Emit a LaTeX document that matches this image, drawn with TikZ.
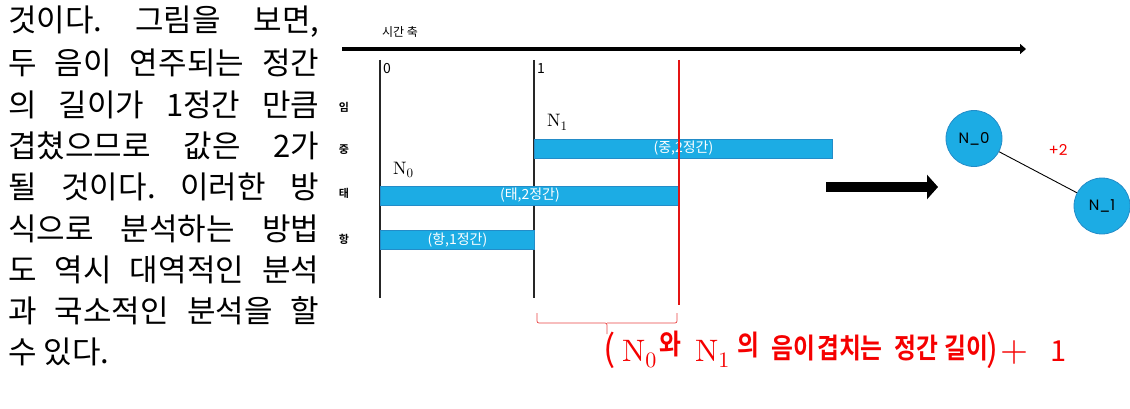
\documentclass[tikz,border=0pt]{standalone}
\usepackage[no-math]{fontspec}
\setmainfont{Noto Sans CJK KR}
\newfontfamily\krb{Noto Sans CJK KR Bold}
\newfontfamily\lmr[Extension=.otf]{lmroman10-regular}
\newfontfamily\pop{Poppins}
\usetikzlibrary{arrows.meta}
\definecolor{barblue}{RGB}{28,172,228}
\definecolor{barline}{RGB}{35,140,200}
\definecolor{redl}{RGB}{228,20,20}
\definecolor{redt}{RGB}{245,0,0}
\tikzset{
  para/.style={anchor=west,inner sep=0pt,font=\fontsize{31}{34}\selectfont},
  bar/.style={draw=barline,fill=barblue,line width=0.8pt,minimum height=19pt,inner sep=0pt,anchor=west,text=white,font=\fontsize{14}{14}\selectfont},
  rowlab/.style={inner sep=0pt,font=\krb\fontsize{11}{11}\selectfont},
  tick/.style={inner sep=0pt,anchor=west,font=\fontsize{14}{14}\selectfont},
  vline/.style={line width=1.6pt,black!85},
  gnode/.style={circle,draw=barline,fill=barblue,line width=0.8pt,minimum size=56pt,inner sep=0pt,font=\pop\fontsize{15}{15}\selectfont},
}
% N with subscript, size #1, subscript #2
\newcommand{\Nsub}[3]{{\lmr\fontsize{#1}{#1}\selectfont N\raisebox{-0.22em}{\fontsize{#2}{#2}\selectfont #3}}}
\newcommand{\kr}[2]{\raisebox{#1}{\scalebox{0.85}[1]{\krb\fontsize{28}{28}\selectfont #2}}}
\newcommand{\bigp}[1]{{\fontsize{36}{36}\selectfont #1}}
\newcommand{\piece}[2]{\makebox[#1pt][l]{#2}}
\begin{document}
\begin{tikzpicture}[x=1pt,y=-1pt]
\useasboundingbox (0,0) rectangle (1130,409);
% paragraph
\foreach \i/\t in {0/{것이다.\hfill 그림을\hfill 보면,},
  1/{두\hfill 음이\hfill 연주되는\hfill 정간},
  2/{의\hfill 길이가\hfill 1정간\hfill 만큼},
  3/{겹쳤으므로\hfill 값은\hfill 2가},
  4/{될\hfill 것이다.\hfill 이러한\hfill 방},
  5/{식으로\hfill 분석하는\hfill 방법},
  6/{도\hfill 역시\hfill 대역적인\hfill 분석},
  7/{과\hfill 국소적인\hfill 분석을\hfill 할}}
  \node[para] (p\i) at (8,{22+41.3*\i}) {\makebox[311pt][s]{\t}};
\node[para] (p8) at (8,{22+41.3*8}) {\makebox[311pt][l]{수 있다.}};
% axis
\coordinate (ax0) at (342,49);
\coordinate (ax1) at (1026,49);
\draw[line width=4pt,-{Triangle[length=6pt,width=10pt]}] (ax0) -- (ax1);
\node[inner sep=0pt,font=\fontsize{12}{12}\selectfont] (axlab) at (400,32) {시간 축};
% vertical lines
\coordinate (v0t) at (380,60); \coordinate (v0b) at (380,298);
\coordinate (v1t) at (534,60); \coordinate (v1b) at (534,298);
\coordinate (rt) at (679,60); \coordinate (rb) at (679,305);
\draw[vline] (v0t) -- (v0b);
\draw[vline] (v1t) -- (v1b);
\node[tick] (t0) at (383,69) {0};
\node[tick] (t1) at (537,69) {1};
% row labels
\node[rowlab] (lim) at (344,107) {임};
\node[rowlab] (ljung) at (344,150) {중};
\node[rowlab] (ltae) at (344,193) {태};
\node[rowlab] (lhang) at (344,239) {항};
% bars
\node[bar,minimum width=298pt] (bjung) at (534,148.5) {(중,2정간)};
\node[bar,minimum width=299pt] (btae) at (380,195.5) {(태,2정간)};
\node[bar,minimum width=154pt] (bhang) at (380,240) {(항,1정간)};
\draw[redl,line width=1.3pt] (rt) -- (rb);
% N labels
\node[inner sep=0pt] (n1) at (557,122) {\Nsub{18}{13}{1}};
\node[inner sep=0pt] (n0) at (403,170) {\Nsub{18}{13}{0}};
% brace
\coordinate (bl) at (537,313); \coordinate (br) at (677,313); \coordinate (bm) at (607,334);
\draw[redl!80,line width=0.7pt,rounded corners=2pt] (bl) |- (607,323) -- (bm);
\draw[redl!80,line width=0.7pt,rounded corners=2pt] (br) |- (607,323);
% formula
\node[anchor=base west,inner sep=0pt,text=redt] (formula) at (603,361) {%
\piece{19}{\bigp{(}}%
\piece{37}{\Nsub{31}{22}{0}}%
\piece{36}{\kr{7pt}{와}}%
\piece{42}{\Nsub{31}{22}{1}}%
\piece{34}{\kr{6pt}{의}}%
\piece{46}{\kr{3pt}{음이}}%
\piece{77}{\kr{3pt}{겹치는}}%
\piece{50}{\kr{3pt}{정간}}%
\piece{42}{\kr{3pt}{길이}}%
\piece{14}{\bigp{)}}%
\piece{50}{{\lmr\fontsize{36}{36}\selectfont +}}%
{\fontsize{29}{29}\selectfont 1}};
% big arrow
\coordinate (a0) at (826,187); \coordinate (a1) at (938,187);
\draw[line width=10pt,-{Triangle[length=11pt,width=24pt]}] (a0) -- (a1);
% graph
\node[gnode] (g0) at (974,138.5) {N\_0};
\node[gnode] (g1) at (1102,206) {N\_1};
\draw[line width=0.9pt] (g0) -- (g1);
\node[inner sep=0pt,text=redt,font=\pop\fontsize{15}{15}\selectfont] (w) at (1058,150) {+2};
\end{tikzpicture}
\end{document}
